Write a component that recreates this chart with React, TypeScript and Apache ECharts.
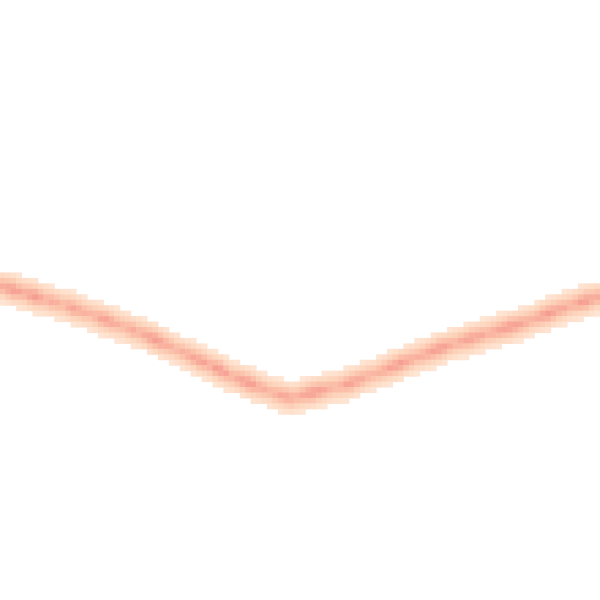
import React, { useEffect, useRef } from "react";
import * as echarts from "echarts";

// Heat band: for each column, the row (from the top) where the band is centred
const centerRow: number[] = [
  52.6, 52.9, 53.2, 53.5, 53.8, 54.1, 54.4, 54.7, 55.0, 55.3,
  55.6, 55.9, 56.2, 56.6, 56.9, 57.3, 57.6, 58.0, 58.4, 58.7,
  59.1, 59.5, 59.8, 60.2, 60.6, 61.0, 61.4, 61.9, 62.3, 62.8,
  63.2, 63.7, 64.2, 64.6, 65.1, 65.6, 66.1, 66.5, 67.0, 67.5,
  67.9, 68.5, 69.0, 69.4, 69.8, 70.2, 70.6, 71.0, 71.4, 71.8,
  72.2, 72.5, 72.8, 73.0, 72.8, 72.5, 72.2, 72.0, 71.7, 71.5,
  71.2, 71.0, 70.8, 70.5, 70.2, 69.8, 69.4, 69.0, 68.7, 68.3,
  67.9, 67.5, 67.1, 66.7, 66.3, 65.9, 65.5, 65.2, 64.8, 64.4,
  64.0, 63.7, 63.3, 63.0, 62.7, 62.4, 62.1, 61.8, 61.5, 61.2,
  60.9, 60.6, 60.3, 60.0, 59.7, 59.4, 59.1, 58.7, 58.3, 57.9,
  57.6, 57.2, 56.8, 56.5, 56.1, 55.8, 55.5, 55.2, 54.9, 54.6,
];

// Peak intensity of each column
const peak: number[] = [
  0.7, 0.8, 0.85, 0.75, 0.7, 0.8, 0.85, 0.75, 0.65, 0.7,
  0.65, 0.6, 0.7, 0.75, 0.7, 0.65, 0.6, 0.65, 0.75, 0.8,
  0.75, 0.65, 0.6, 0.65, 0.7, 0.65, 0.7, 0.8, 0.85, 0.8,
  0.7, 0.65, 0.6, 0.65, 0.7, 0.75, 0.8, 0.75, 0.7, 0.8,
  0.85, 0.75, 0.65, 0.7, 0.8, 0.85, 0.8, 0.7, 0.65, 0.6,
  0.65, 0.7, 0.75, 0.7, 0.65, 0.7, 0.8, 0.85, 0.8, 0.7,
  0.65, 0.6, 0.65, 0.75, 0.8, 0.75, 0.7, 0.65, 0.6, 0.65,
  0.7, 0.75, 0.8, 0.85, 0.75, 0.7, 0.65, 0.7, 0.75, 0.8,
  0.85, 0.8, 0.7, 0.65, 0.7, 0.75, 0.8, 0.75, 0.7, 0.65,
  0.7, 0.75, 0.8, 0.85, 0.8, 0.75, 0.7, 0.65, 0.7, 0.8,
  0.85, 0.8, 0.75, 0.7, 0.65, 0.7, 0.8, 0.85, 0.75, 0.7,
];

// Relative strength of the cells on either side of the centre
const bandProfile: number[] = [0.12, 0.35, 0.7, 1.0, 0.7, 0.35, 0.12];

const COLS = 110;
const ROWS = 110;
const xCats = Array.from({ length: COLS }, (_, i) => String(i));
const yCats = Array.from({ length: ROWS }, (_, i) => String(i));

function buildData(): [number, number, number][] {
  const out: [number, number, number][] = [];
  const half = (bandProfile.length - 1) / 2;
  for (let c = 0; c < COLS; c++) {
    const ctr = centerRow[c];
    const base = Math.round(ctr - 0.5);
    for (let k = -half - 1; k <= half + 1; k++) {
      const r = base + k;
      const d = r + 0.5 - ctr; // offset in rows
      const pos = d * (half / 2.8) + half;
      const i0 = Math.floor(pos);
      const t = pos - i0;
      const a = bandProfile[i0] ?? 0;
      const b = bandProfile[i0 + 1] ?? 0;
      const w = a * (1 - t) + b * t;
      const v = w * peak[c];
      if (v > 0.06 && r >= 0 && r < ROWS) out.push([c, r, v]);
    }
  }
  return out;
}

export default function App() {
  const ref = useRef<HTMLDivElement>(null);
  useEffect(() => {
    if (!ref.current) return;
    const chart = echarts.init(ref.current, undefined, { renderer: "svg" });
    chart.setOption({
      animation: false,
      backgroundColor: "#ffffff",
      grid: { left: 0, right: 0, top: 0, bottom: 0 },
      xAxis: { type: "category", data: xCats, show: false },
      yAxis: { type: "category", data: yCats, inverse: true, show: false },
      visualMap: {
        show: false,
        min: 0,
        max: 1,
        inRange: { color: ["#ffeadb", "#fdd7bf", "#fbbfa8", "#f7a496", "#f08c86"] },
      },
      series: [
        {
          type: "heatmap",
          data: buildData(),
          itemStyle: { borderWidth: 0 },
          emphasis: { disabled: true },
        },
      ],
    });
    return () => chart.dispose();
  }, []);
  return (
    <div
      ref={ref}
      style={{ position: "absolute", left: 0, top: 0, width: 600, height: 600 }}
    />
  );
}
